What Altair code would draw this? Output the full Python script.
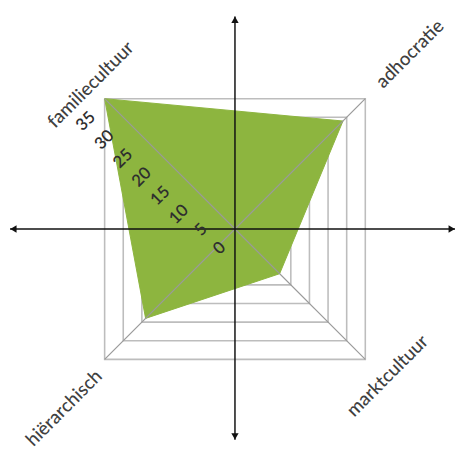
import altair as alt
import pandas as pd

# ---- data -------------------------------------------------------------
categories = ["familiecultuur", "adhocratie", "marktcultuur", "hiërarchisch"]
scores = [35, 29, 12, 24]
grid_levels = [5, 10, 15, 20, 25, 30, 35]
tick_values = [0, 5, 10, 15, 20, 25, 30, 35]
tick_labels = ["0", "5", "10", "15", "20", "25", "30", "35"]
max_level = 35

# direction of each category spoke (x sign, y sign): the grid is square
dir_x = [-1, 1, 1, -1]
dir_y = [1, 1, -1, -1]

# ---- layout ------------------------------------------------------------
W, H = 458, 444
PX = 3.79           # pixels per unit
CX, CY = 231, 221   # centre of the radar inside the view (px)
x_dom = [-CX / PX, (W - CX) / PX]
y_dom = [-(H - CY) / PX, CY / PX]
arrow_x = [-60.4, 59.1]
arrow_y = [-56.6, 57.1]

FONT = "Lato"
GREEN = "#8DB53F"

xs = alt.Scale(domain=x_dom, nice=False, zero=False)
ys = alt.Scale(domain=y_dom, nice=False, zero=False)
X = lambda f: alt.X(f, type="quantitative", scale=xs, axis=None)
Y = lambda f: alt.Y(f, type="quantitative", scale=ys, axis=None)

# square grid rings
ring_rows = []
for lv in grid_levels:
    for k, i in enumerate([0, 1, 2, 3, 0]):
        ring_rows.append({"level": lv, "k": k, "x": dir_x[i] * lv, "y": dir_y[i] * lv})
rings = alt.Chart(pd.DataFrame(ring_rows)).mark_line(
    color="#BDBDBD", strokeWidth=1.6
).encode(x=X("x"), y=Y("y"), detail="level:N", order="k:Q")

# filled data polygon
poly_rows = []
for k, i in enumerate([0, 1, 2, 3, 0]):
    poly_rows.append({"k": k, "cat": categories[i],
                      "x": dir_x[i] * scores[i], "y": dir_y[i] * scores[i]})
poly = alt.Chart(pd.DataFrame(poly_rows)).mark_line(
    fill=GREEN, stroke=GREEN, strokeWidth=1
).encode(x=X("x"), y=Y("y"), order="k:Q")

# spokes
spoke_df = pd.DataFrame({
    "cat": categories,
    "x0": [0] * 4, "y0": [0] * 4,
    "x1": [dx * max_level for dx in dir_x],
    "y1": [dy * max_level for dy in dir_y],
})
spokes = alt.Chart(spoke_df).mark_rule(color="#9A9A9A", strokeWidth=1.2).encode(
    x=X("x0"), y=Y("y0"), x2="x1", y2="y1"
)

# black axis arrows
hline = alt.Chart(pd.DataFrame({"x0": [arrow_x[0]], "x1": [arrow_x[1]], "y": [0]})).mark_rule(
    color="#111111", strokeWidth=1.5
).encode(x=X("x0"), x2="x1", y=Y("y"))
vline = alt.Chart(pd.DataFrame({"y0": [arrow_y[0]], "y1": [arrow_y[1]], "x": [0]})).mark_rule(
    color="#111111", strokeWidth=1.5
).encode(y=Y("y0"), y2="y1", x=X("x"))
head_df = pd.DataFrame({
    "x": [arrow_x[0] + 0.9, arrow_x[1] - 0.9, 0, 0],
    "y": [0, 0, arrow_y[1] - 0.9, arrow_y[0] + 0.9],
    "shape": ["triangle-left", "triangle-right", "triangle-up", "triangle-down"],
})
heads = alt.Chart(head_df).mark_point(filled=True, color="#111111", size=55, opacity=1).encode(
    x=X("x"), y=Y("y"),
    shape=alt.Shape("shape:N", scale=None, legend=None),
)

# tick labels along the familiecultuur spoke
tick_df = pd.DataFrame({
    "x": [dir_x[0] * v for v in tick_values],
    "y": [dir_y[0] * v for v in tick_values],
    "label": tick_labels,
})
ticks = alt.Chart(tick_df).mark_text(
    angle=315, align="right", baseline="middle", dx=-20, dy=3,
    font=FONT, fontSize=17, fontWeight=600, color="#2E2E2E"
).encode(x=X("x"), y=Y("y"), text="label:N")

# category labels at the outer corners
def cat_label(i, align, dx, dy):
    df = pd.DataFrame({"x": [dir_x[i] * max_level], "y": [dir_y[i] * max_level],
                       "label": [categories[i]]})
    return alt.Chart(df).mark_text(
        angle=315, align=align, baseline="middle", dx=dx, dy=dy,
        font=FONT, fontSize=19, fontWeight=500, color="#404040"
    ).encode(x=X("x"), y=Y("y"), text="label:N")

labels = (cat_label(0, "center", 0, -20) + cat_label(1, "left", 20, 0)
          + cat_label(2, "center", 4, 28) + cat_label(3, "right", -14, 6))

chart = alt.layer(rings, poly, spokes, hline, vline, heads, ticks, labels).properties(
    width=W, height=H, padding=0,
    autosize=alt.AutoSizeParams(type="none"),
).configure_view(stroke=None)

chart.save("out.html", embed_options={"renderer": "svg", "actions": False})
